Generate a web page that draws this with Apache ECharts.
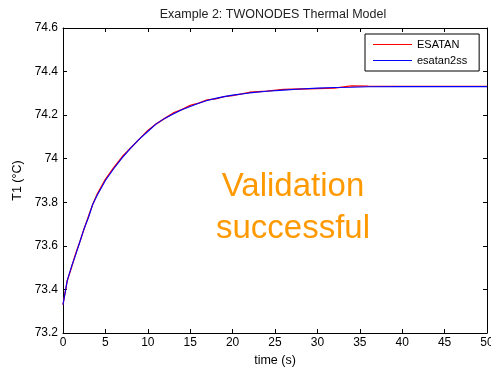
<!DOCTYPE html>
<html><head><meta charset="utf-8">
<script src="https://cdn.jsdelivr.net/npm/echarts@6/dist/echarts.min.js"></script>
<style>html,body{margin:0;padding:0;background:#fff}#c{width:491px;height:368px}</style>
</head><body><div id="c"></div>
<script>
var times = [0, 0.5, 1, 1.5, 2, 2.5, 3, 3.5, 4, 5, 6, 7, 8, 9, 10, 11, 12, 13, 14, 15, 16, 17, 18, 19, 20, 22, 24, 26, 28, 30, 32, 34, 36, 40, 45, 50];
var esatan = [73.33, 73.44, 73.50, 73.565, 73.62, 73.68, 73.735, 73.79, 73.835, 73.905, 73.96, 74.01, 74.05, 74.09, 74.13, 74.16, 74.185, 74.21, 74.225, 74.245, 74.255, 74.27, 74.275, 74.285, 74.29, 74.305, 74.31, 74.318, 74.32, 74.322, 74.324, 74.334, 74.333, 74.332, 74.332, 74.332];
var esatan2ss = [73.33, 73.44, 73.505, 73.56, 73.62, 73.68, 73.73, 73.79, 73.83, 73.9, 73.955, 74.005, 74.05, 74.09, 74.125, 74.16, 74.185, 74.205, 74.225, 74.24, 74.255, 74.267, 74.277, 74.285, 74.292, 74.302, 74.31, 74.315, 74.32, 74.324, 74.327, 74.328, 74.33, 74.331, 74.331, 74.331];
var xTicks = [0, 5, 10, 15, 20, 25, 30, 35, 40, 45, 50];
var yTicks = [73.2, 73.4, 73.6, 73.8, 74, 74.2, 74.4, 74.6];
var titleText = 'Example 2: TWONODES Thermal Model';
var xName = 'time (s)';
var yName = 'T1 (°C)';
var seriesNames = ['ESATAN', 'esatan2ss'];
var noteLines = ['Validation', 'successful'];

function pairs(xs, ys){ return xs.map(function(x,i){return [x, ys[i]];}); }
var font = 'Liberation Sans, Arial, sans-serif';
var chart = echarts.init(document.getElementById('c'));
var axisCommon = {
  axisLine: {show: true, onZero: false, lineStyle: {color: '#000', width: 1}},
  axisTick: {show: true, inside: true, length: 4, lineStyle: {color: '#000'}},
  splitLine: {show: false}
};
chart.setOption({
  animation: false,
  backgroundColor: '#fff',
  grid: {left: 63, right: 4, top: 28, bottom: 35, show: false, outerBoundsMode: 'none', containLabel: false},
  legend: {data: [{name: seriesNames[0]}, {name: seriesNames[1]}], orient: 'vertical', left: 365, top: 34,
    width: 115, backgroundColor: '#fff', borderColor: '#000', borderWidth: 1, borderRadius: 0,
    padding: [5, 12, 5, 8], itemGap: 5, itemWidth: 39, itemHeight: 8, icon: 'path://M0,4L39,4L39,5L0,5Z',
    textStyle: {fontFamily: font, fontSize: 11, color: '#000'}},
  xAxis: [
    Object.assign({type: 'value', min: 0, max: 50, interval: 5, position: 'bottom',
      name: xName, nameLocation: 'middle', nameGap: 20,
      nameTextStyle: {fontFamily: font, fontSize: 12.5, color: '#000'},
      axisLabel: {fontFamily: font, fontSize: 12, color: '#000', margin: 4}}, axisCommon),
    Object.assign({type: 'value', min: 0, max: 50, interval: 5, position: 'top', axisLabel: {show: false}}, axisCommon)
  ],
  yAxis: [
    Object.assign({type: 'value', min: 73.2, max: 74.6, interval: 0.2, position: 'left',
      name: yName, nameLocation: 'middle', nameGap: 37, nameRotate: 90,
      nameTextStyle: {fontFamily: font, fontSize: 12.5, color: '#000'},
      axisLabel: {fontFamily: font, fontSize: 12, color: '#000', margin: 5,
        formatter: function(v){ return String(Math.round(v*10)/10); }}}, axisCommon),
    Object.assign({type: 'value', min: 73.2, max: 74.6, interval: 0.2, position: 'right', axisLabel: {show: false}}, axisCommon)
  ],
  series: [
    {name: seriesNames[0], type: 'line', data: pairs(times, esatan), showSymbol: false, symbol: 'none',
      lineStyle: {color: '#ff0000', width: 1.3}, itemStyle: {color: '#ff0000'}},
    {name: seriesNames[1], type: 'line', data: pairs(times, esatan2ss), showSymbol: false, symbol: 'none',
      lineStyle: {color: '#0000ff', width: 1.1}, itemStyle: {color: '#0000ff'}}
  ],
  graphic: [
    {type: 'text', x: 273, y: 8, style: {text: titleText, fill: '#222', font: '12.5px ' + font, textAlign: 'center', textVerticalAlign: 'top'}},
    {type: 'text', x: 293, y: 203, style: {text: noteLines[0], fill: '#ff9900', font: '33px ' + font, textAlign: 'center', textVerticalAlign: 'bottom'}},
    {type: 'text', x: 293, y: 245, style: {text: noteLines[1], fill: '#ff9900', font: '33px ' + font, textAlign: 'center', textVerticalAlign: 'bottom'}}
  ]
});
</script></body></html>
